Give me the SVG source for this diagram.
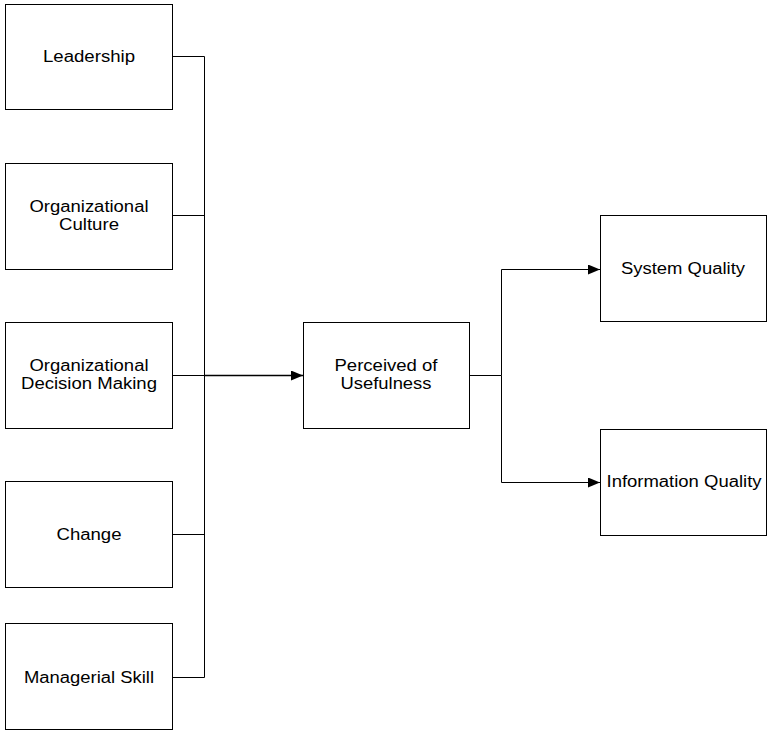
<svg xmlns="http://www.w3.org/2000/svg" width="768" height="731" viewBox="0 0 768 731">
<style>
.box{fill:#fff;stroke:#000;stroke-width:1}
.lbl{font-family:"Liberation Sans",Arial,sans-serif;font-size:16px;fill:#000;text-anchor:middle}
.ln{fill:none;stroke:#000;stroke-width:1}
</style>
<defs>
<marker id="arr" viewBox="0 0 12 10" refX="12" refY="5" markerWidth="12" markerHeight="10" markerUnits="userSpaceOnUse" orient="auto">
<path d="M0,0 L12,5 L0,10 Z" fill="#000"/>
</marker>
</defs>
<rect width="768" height="731" fill="#fff"/>
<g id="connectors">
<path class="ln" d="M172.5,56.5 H204.5 V677.5 H172.5"/>
<path class="ln" d="M172.5,215.5 H204.5"/>
<path class="ln" d="M172.5,534.5 H204.5"/>
<path class="ln" d="M172.5,375.5 H204.5"/>
<path class="ln" style="stroke-width:1.6" d="M204.5,375.5 H303" marker-end="url(#arr)"/>
<path class="ln" d="M469.5,375.5 H501.5"/>
<path class="ln" d="M501.5,375.5 V269.5 H600" marker-end="url(#arr)"/>
<path class="ln" d="M501.5,375.5 V482.5 H600" marker-end="url(#arr)"/>
</g>
<g id="leadership">
<rect class="box" x="5.5" y="4.5" width="167" height="105"/>
<text class="lbl" x="89" y="62" textLength="92" lengthAdjust="spacingAndGlyphs">Leadership</text>
</g>
<g id="org-culture">
<rect class="box" x="5.5" y="163.5" width="167" height="106"/>
<text class="lbl" x="89" y="212" textLength="119" lengthAdjust="spacingAndGlyphs">Organizational</text>
<text class="lbl" x="89" y="230" textLength="60" lengthAdjust="spacingAndGlyphs">Culture</text>
</g>
<g id="org-decision">
<rect class="box" x="5.5" y="322.5" width="167" height="106"/>
<text class="lbl" x="89" y="371" textLength="119" lengthAdjust="spacingAndGlyphs">Organizational</text>
<text class="lbl" x="89" y="389" textLength="136" lengthAdjust="spacingAndGlyphs">Decision Making</text>
</g>
<g id="change">
<rect class="box" x="5.5" y="481.5" width="167" height="106"/>
<text class="lbl" x="89" y="540" textLength="65" lengthAdjust="spacingAndGlyphs">Change</text>
</g>
<g id="managerial-skill">
<rect class="box" x="5.5" y="623.5" width="167" height="106"/>
<text class="lbl" x="89" y="683" textLength="130" lengthAdjust="spacingAndGlyphs">Managerial Skill</text>
</g>
<g id="perceived">
<rect class="box" x="303.5" y="322.5" width="166" height="106"/>
<text class="lbl" x="386" y="371" textLength="103" lengthAdjust="spacingAndGlyphs">Perceived of</text>
<text class="lbl" x="386" y="389" textLength="91" lengthAdjust="spacingAndGlyphs">Usefulness</text>
</g>
<g id="system-quality">
<rect class="box" x="600.5" y="215.5" width="166" height="106"/>
<text class="lbl" x="683" y="274" textLength="124" lengthAdjust="spacingAndGlyphs">System Quality</text>
</g>
<g id="information-quality">
<rect class="box" x="600.5" y="429.5" width="166" height="106"/>
<text class="lbl" x="684" y="487" textLength="155" lengthAdjust="spacingAndGlyphs">Information Quality</text>
</g>
</svg>
